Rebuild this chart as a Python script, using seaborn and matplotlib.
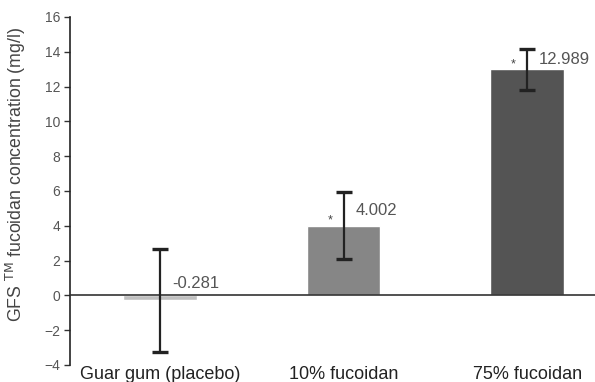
import matplotlib
matplotlib.use("Agg")
import matplotlib.pyplot as plt
import seaborn as sns
import pandas as pd

categories = ["Guar gum (placebo)", "10% fucoidan", "75% fucoidan"]
values = [-0.281, 4.002, 12.989]
errors = [2.95, 1.92, 1.2]
value_labels = ["-0.281", "4.002", "12.989"]
significant = [False, True, True]
colors = ["#c0c0c0", "#868686", "#545454"]
yticks = list(range(-4, 17, 2))

sns.set_theme(style="white")
plt.rcParams["font.family"] = ["Liberation Sans", "DejaVu Sans"]

df = pd.DataFrame({"group": categories, "value": values})

fig = plt.figure(figsize=(5.95, 3.82), dpi=100)
ax = fig.add_axes([70 / 595, 17 / 382, 525 / 595, 348 / 382])

sns.barplot(data=df, x="group", y="value", hue="group", palette=colors,
            width=0.4, legend=False, ax=ax, errorbar=None, saturation=1)
ax.errorbar(range(len(values)), values, yerr=errors, fmt="none",
            ecolor="#222222", elinewidth=1.6, capsize=5.5, capthick=2.4, zorder=5)

for i, (v, e, lab, s) in enumerate(zip(values, errors, value_labels, significant)):
    if i == 0:
        ax.text(i + 0.065, v + 0.95, lab, fontsize=12, color="#555555", ha="left", va="center")
    else:
        ax.text(i + 0.065, v + 0.45 * e, lab, fontsize=12, color="#555555", ha="left", va="center")
    if s:
        ax.text(i - 0.075, v - 0.05, "*", fontsize=9, color="#444444", ha="center", va="bottom")

ax.axhline(0, color="#333333", lw=1.2, zorder=4)
ax.set_xlim(-0.49, 2.37)
ax.set_ylim(-4, 16)
ax.set_yticks(yticks)
ax.set_yticklabels([str(t).replace("-", "\u2212") for t in yticks], color="#555555", fontsize=10)
ax.tick_params(axis="y", direction="out", length=4, width=1, color="#333333", left=True, pad=3)
ax.tick_params(axis="x", length=0, labelsize=13, labelcolor="#222222", pad=1)
ax.set_xlabel("")
ax.set_ylabel("GFS $^{\\mathrm{TM}}$ fucoidan concentration (mg/l)", fontsize=12.8, color="#444444")
ax.yaxis.set_label_coords(-0.08, 0.549)
for sp in ["top", "right", "bottom"]:
    ax.spines[sp].set_visible(False)
ax.spines["left"].set_color("#222222")
ax.spines["left"].set_linewidth(1.2)

fig.savefig("out.png", dpi=100)
